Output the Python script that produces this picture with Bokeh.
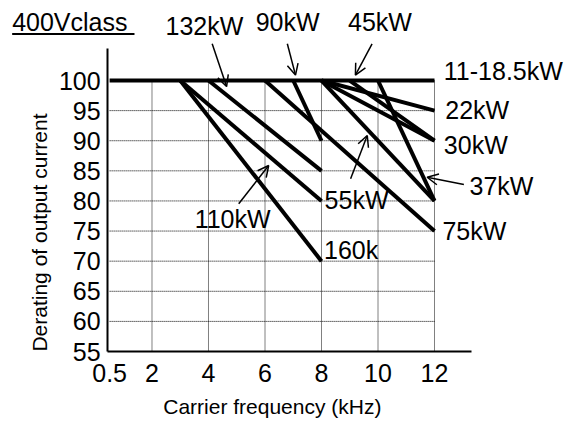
import math
from bokeh.plotting import figure
from bokeh.models import (Range1d, FixedTicker, Label, Arrow, OpenHead,
                          ColumnDataSource, NumeralTickFormatter)
from bokeh.embed import file_html
from bokeh.resources import INLINE

# ---------------- data ----------------
models = ["11-18.5kW", "22kW", "30kW", "37kW", "45kW", "55kW",
          "75kW", "90kW", "110kW", "132kW", "160kW"]
freq_start = [0.5, 8, 8, 10, 9, 8, 6, 7, 3, 4, 3]          # kHz where derating starts
freq_end = [12, 12, 12, 12, 12, 12, 12, 8, 8, 8, 8]         # kHz at end of curve
derating_start = [100, 100, 100, 100, 100, 100, 100, 100, 100, 100, 100]
derating_end = [100, 95, 90, 80, 90, 80, 75, 90, 80, 85, 70]

x_ticks = [0.5, 2, 4, 6, 8, 10, 12]
y_ticks = [55, 60, 65, 70, 75, 80, 85, 90, 95, 100]
grid_x = [2, 4, 6, 8, 10, 12]
grid_y = [60, 65, 70, 75, 80, 85, 90, 95]

title_text = "400Vclass"
x_title = "Carrier frequency (kHz)"
y_title = "Derating of output current"

FONT = "Liberation Sans"

# ---------------- figure ----------------
# frame covers the whole canvas; axes are drawn at fixed data locations
X0, X1 = -3.3628, 17.0619
Y0, Y1 = 43.376, 113.287
PX_PER_X = 577 / (X1 - X0)
PX_PER_Y = 421 / (Y1 - Y0)
AX_X, AX_Y = 0.43, 55          # where the axis lines sit
p = figure(width=577, height=421, x_range=Range1d(X0, X1), y_range=Range1d(Y0, Y1),
           toolbar_location=None, output_backend="svg",
           min_border_left=0, min_border_right=0, min_border_top=0, min_border_bottom=0)
p.outline_line_color = None
p.grid.visible = False
p.background_fill_color = "white"
p.border_fill_color = "white"

for ax in (p.xaxis[0], p.yaxis[0]):
    ax.axis_line_width = 2
    ax.axis_line_color = "black"
    ax.major_tick_line_color = None
    ax.minor_tick_line_color = None
    ax.major_label_text_font = FONT
    ax.major_label_text_font_size = "25px"
    ax.major_label_text_color = "black"
p.xaxis.ticker = FixedTicker(ticks=x_ticks)
p.xaxis.formatter = NumeralTickFormatter(format="0.[0]")
p.xaxis.fixed_location = AX_Y
p.xaxis.bounds = (AX_X, 13.3)
p.xaxis.major_label_standoff = 6
p.yaxis.ticker = FixedTicker(ticks=y_ticks)
p.yaxis.fixed_location = AX_X
p.yaxis.bounds = (AX_Y, 105.3)
p.yaxis.major_label_standoff = 1

# dotted grid inside [0.5,12] x [55,100]
p.segment(x0=grid_x, y0=[55] * len(grid_x), x1=grid_x, y1=[100] * len(grid_x),
          line_color="black", line_width=1, line_dash="1 1")
p.segment(x0=[0.5] * len(grid_y), y0=grid_y, x1=[12] * len(grid_y), y1=grid_y,
          line_color="black", line_width=1, line_dash="1 1")

# derating curves
src = ColumnDataSource(dict(
    xs=[[a, b] for a, b in zip(freq_start, freq_end)],
    ys=[[a, b] for a, b in zip(derating_start, derating_end)],
    name=models))
p.multi_line(xs="xs", ys="ys", source=src, line_color="black", line_width=4,
             line_cap="butt")

# ---------------- texts ----------------
SHIFT_EM = 0.4   # compensate the renderer's baseline offset

def lab(x, y, text, size=25, angle=0, align="left"):
    if angle == 0:
        y = y + SHIFT_EM * size / PX_PER_Y
    else:
        x = x - SHIFT_EM * size / PX_PER_X
    p.add_layout(Label(x=x, y=y, text=text, text_font=FONT, text_font_size=f"{size}px",
                       text_color="black", angle=angle, text_align=align,
                       text_baseline="alphabetic"))

lab(-2.95, 108.02, title_text)
p.add_layout(Arrow(end=None, x_start=-2.95, y_start=107.72, x_end=1.38, y_end=107.72,
                   line_width=2, line_color="black"))

label_pos = {
    "132kW": (2.48, 107.47),
    "90kW": (5.67, 108.05),
    "45kW": (8.94, 108.05),
    "11-18.5kW": (12.33, 100.0),
    "22kW": (12.38, 93.48),
    "30kW": (12.33, 87.55),
    "37kW": (13.24, 80.74),
    "75kW": (12.28, 73.43),
    "55kW": (8.11, 78.53),
    "160k": (8.09, 70.23),
    "110kW": (3.51, 75.26),
}
for t, (x, y) in label_pos.items():
    lab(x, y, t)

arrows = [
    ((4.13, 106.1), (4.64, 99.0)),    # 132kW
    ((6.79, 106.1), (7.08, 100.9)),   # 90kW
    ((9.79, 106.1), (9.20, 100.9)),   # 45kW
    ((13.04, 82.73), (11.74, 83.94)), # 37kW
    ((9.03, 83.7), (9.62, 90.87)),    # 55kW
    ((5.07, 79.53), (6.13, 85.89)),   # 110kW
]
for (xs_, ys_), (xe_, ye_) in arrows:
    p.add_layout(Arrow(end=OpenHead(size=11, line_width=1.5, line_color="black"),
                       x_start=xs_, y_start=ys_, x_end=xe_, y_end=ye_,
                       line_width=1.5, line_color="black"))

# axis titles
lab(6.26, 44.45, x_title, size=21, align="center")
lab(-1.70, 74.76, y_title, size=21, angle=math.pi / 2, align="center")

open("out.html", "w").write(file_html(p, INLINE))
